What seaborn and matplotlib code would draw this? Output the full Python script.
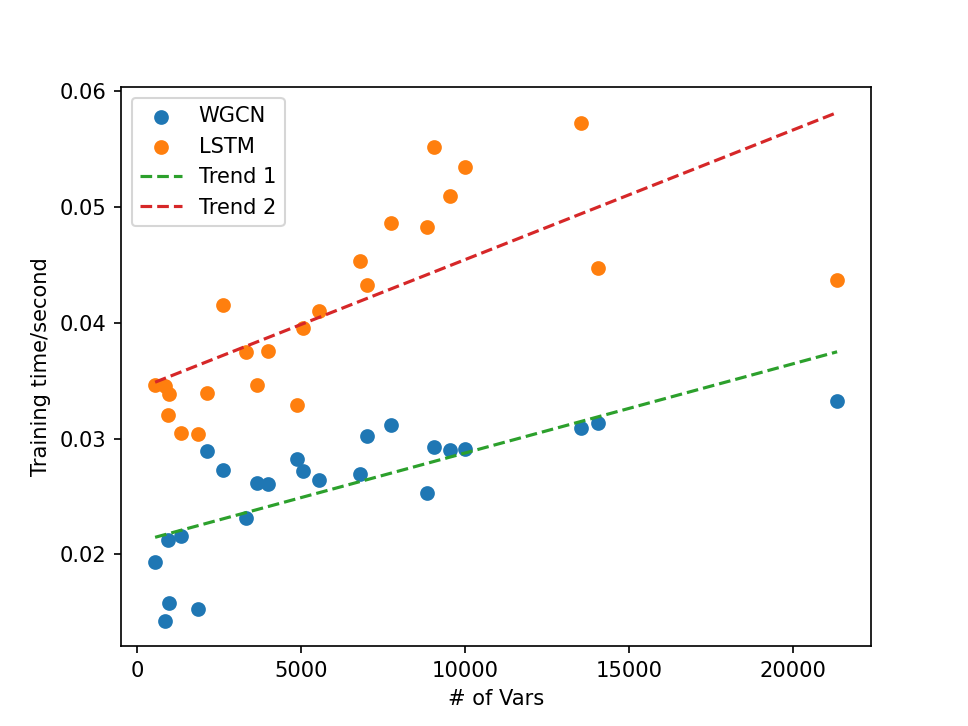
import numpy as np
import pandas as pd
import matplotlib
matplotlib.use("Agg")
import matplotlib.pyplot as plt
import seaborn as sns

# data
n_vars = [549, 854, 945, 976, 1341, 1860, 2134, 2622, 3323, 3659, 3994, 4878,
          5061, 5549, 6799, 7012, 7744, 8841, 9055, 9543, 10000, 13537, 14055, 21341]
wgcn_time = [0.01931, 0.01427, 0.02121, 0.01579, 0.02158, 0.01531, 0.02896, 0.02732,
             0.02311, 0.02613, 0.02611, 0.02827, 0.02717, 0.02642, 0.02697, 0.03019,
             0.03120, 0.02530, 0.02930, 0.02901, 0.02913, 0.03091, 0.03138, 0.03322]
lstm_time = [0.03460, 0.03454, 0.03203, 0.03382, 0.03048, 0.03037, 0.03397, 0.04157,
             0.03751, 0.03466, 0.03760, 0.03287, 0.03959, 0.04105, 0.04537, 0.04330,
             0.04860, 0.04828, 0.05516, 0.05099, 0.05349, 0.05724, 0.04473, 0.04367]

df = pd.DataFrame({"vars": n_vars, "WGCN": wgcn_time, "LSTM": lstm_time})

# linear trends
x_ends = np.array([min(n_vars), max(n_vars)])
p1 = np.polyfit(df["vars"], df["WGCN"], 1)
p2 = np.polyfit(df["vars"], df["LSTM"], 1)

fig, ax = plt.subplots(figsize=(6.4, 4.8), dpi=151.25)
sns.scatterplot(data=df, x="vars", y="WGCN", color="C0", s=36,
                edgecolor="face", linewidth=1, label="WGCN", ax=ax)
sns.scatterplot(data=df, x="vars", y="LSTM", color="C1", s=36,
                edgecolor="face", linewidth=1, label="LSTM", ax=ax)
sns.lineplot(x=x_ends, y=np.polyval(p1, x_ends), color="C2", linestyle="--",
             label="Trend 1", ax=ax)
sns.lineplot(x=x_ends, y=np.polyval(p2, x_ends), color="C3", linestyle="--",
             label="Trend 2", ax=ax)

ax.set_xlabel("# of Vars")
ax.set_ylabel("Training time/second")
ax.legend(loc="upper left")
plt.savefig("out.png", dpi=151.25)
